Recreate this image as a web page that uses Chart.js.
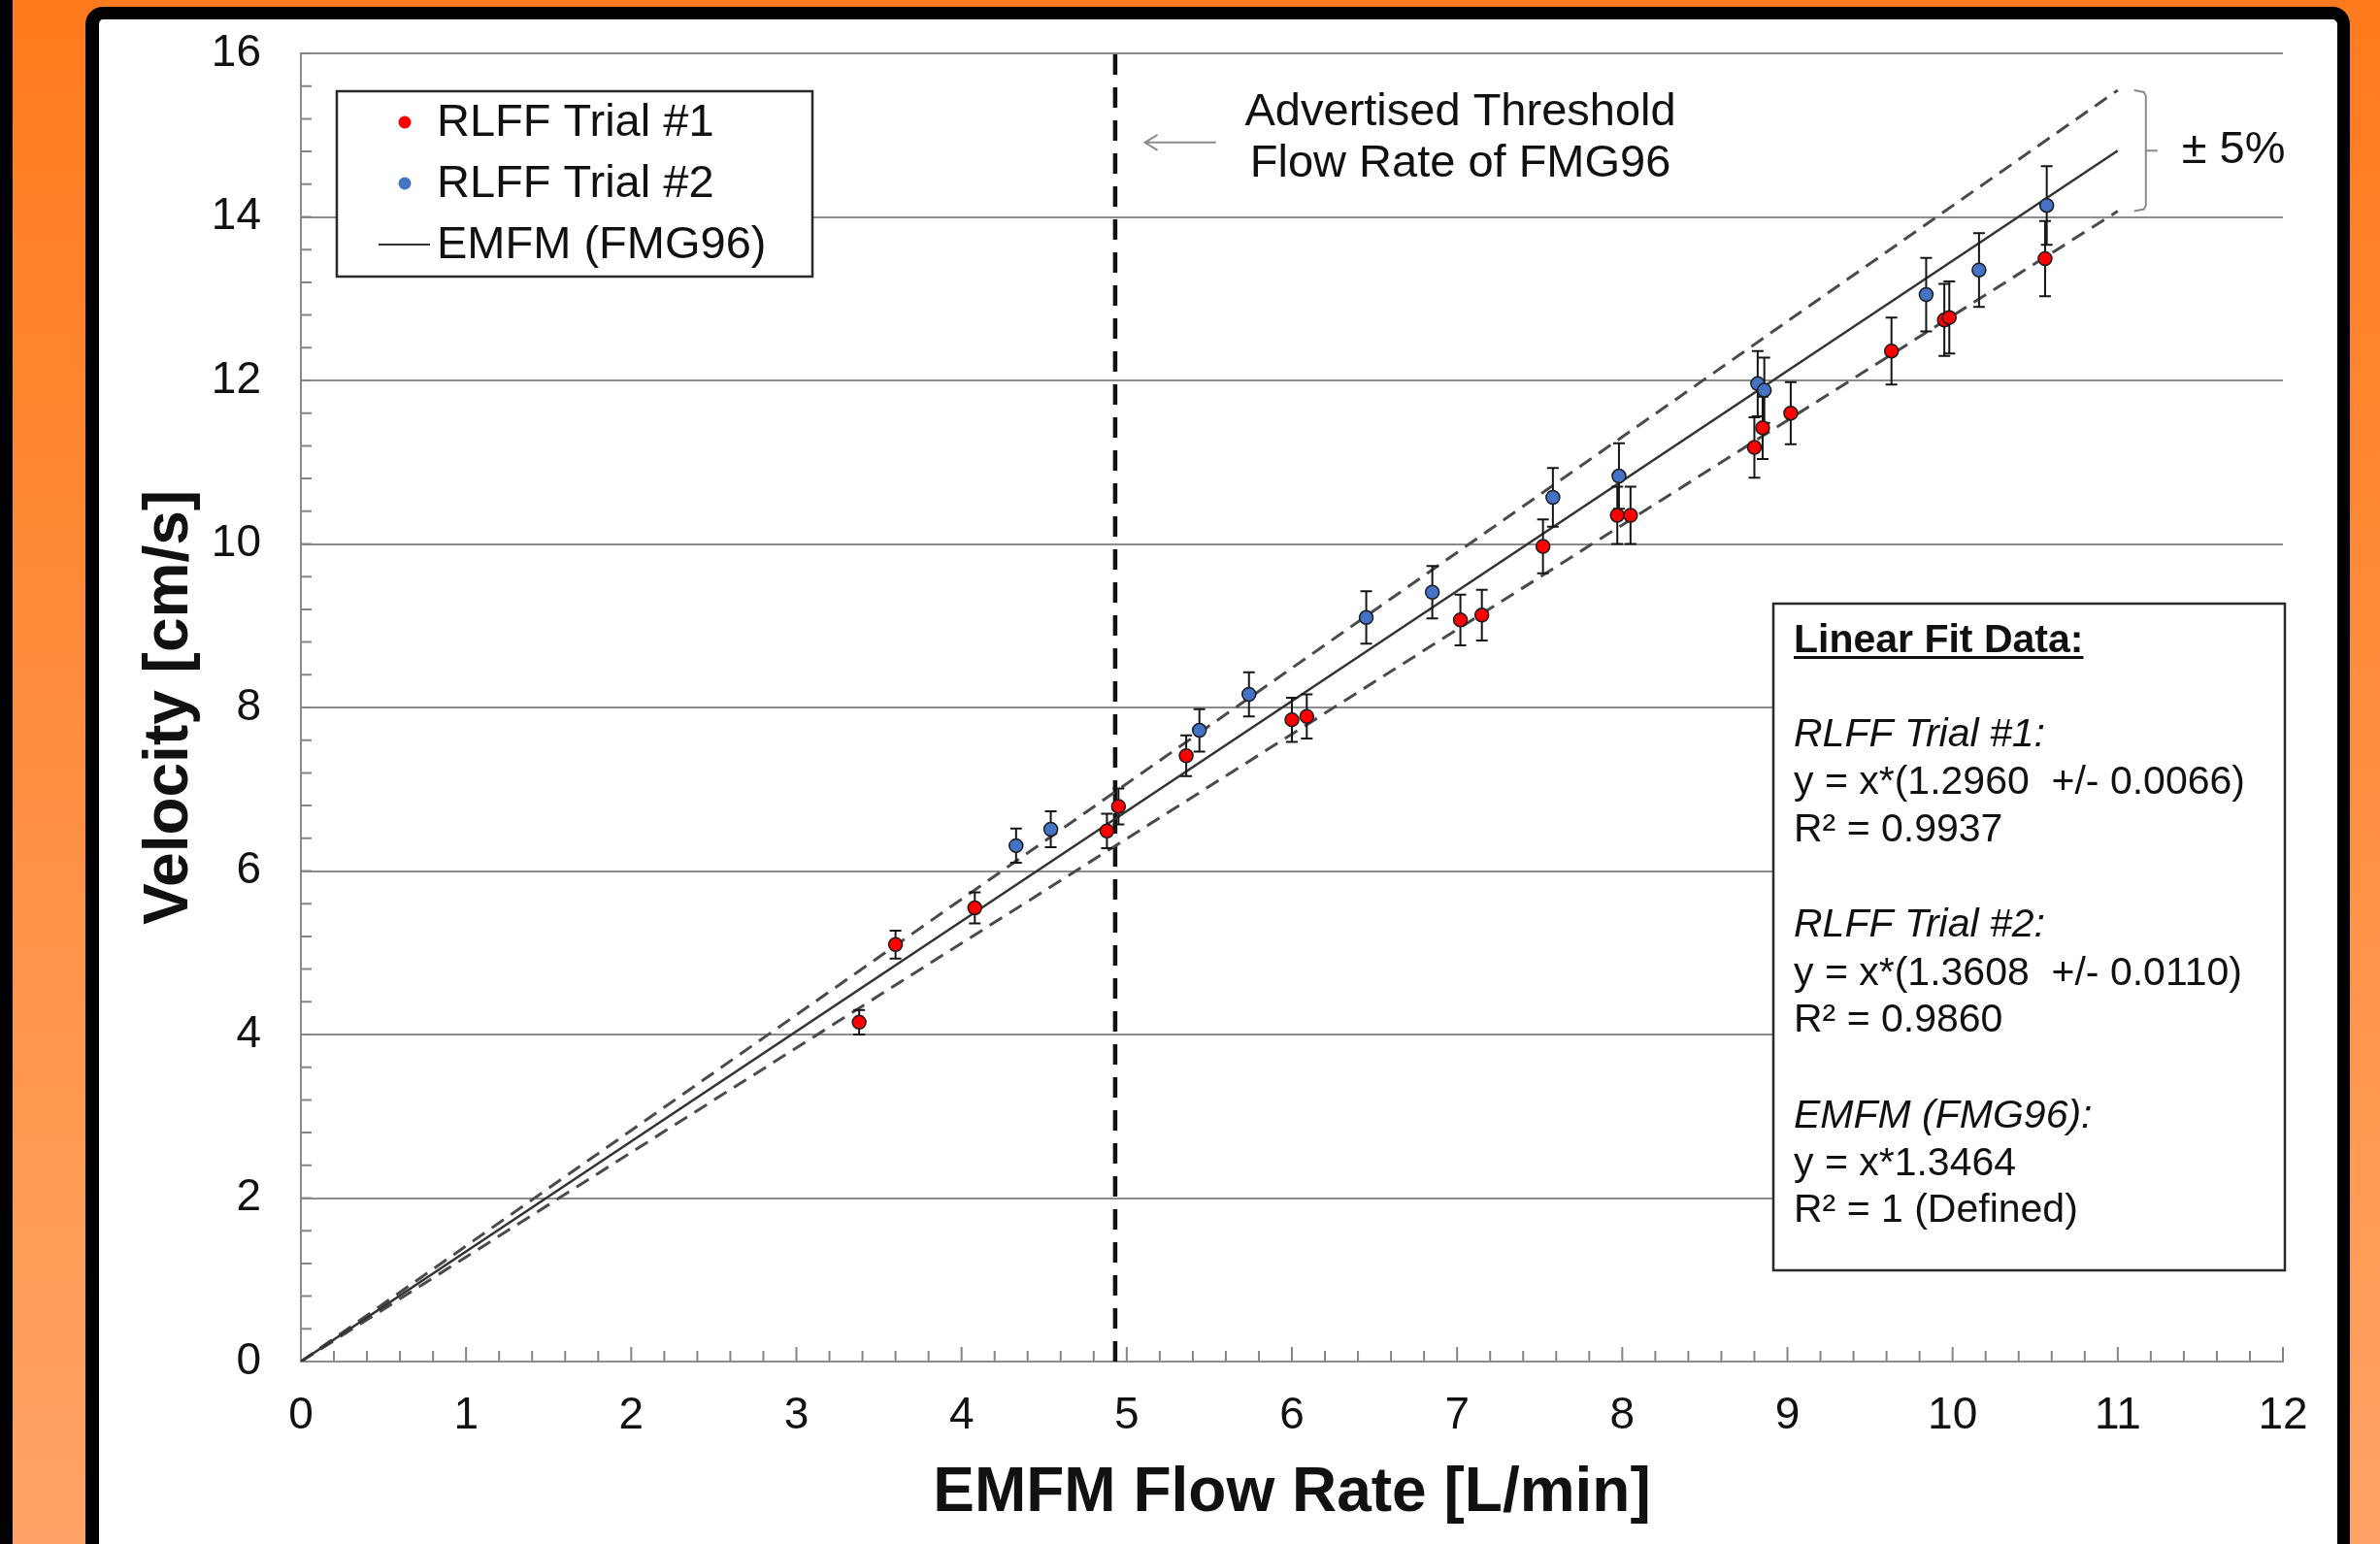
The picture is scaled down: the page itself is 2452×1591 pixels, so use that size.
<!DOCTYPE html>
<html>
<head>
<meta charset="utf-8">
<title>RLFF vs EMFM</title>
<script src="https://cdn.jsdelivr.net/npm/chart.js@4.4.1/dist/chart.umd.min.js"></script>
<style>
  html, body { margin: 0; padding: 0; }
  body {
    width: 2452px; height: 1591px; overflow: hidden; position: relative;
    background: linear-gradient(to bottom, #ff7a1c 0%, #ffa466 100%);
  }
  #edge { position: absolute; left: 0; top: 0; width: 13px; height: 100%; background: #000; }
  #panel {
    position: absolute; left: 88px; top: 7px; width: 2333px; height: 1650px;
    box-sizing: border-box; background: #fff;
    border: solid #000; border-width: 13px 13px 0 14px; border-radius: 18px;
  }
  #chart { position: absolute; left: 0; top: 0; }
</style>
</head>
<body>
<div id="edge"></div>
<div id="panel"><canvas id="chart" width="2305" height="1571"></canvas></div>
<script>
const trial1X   = [3.38, 3.60, 4.08, 4.88, 4.95, 5.36, 6.00, 6.09, 7.02, 7.15, 7.52, 7.97, 8.05, 8.80, 8.85, 9.02, 9.63, 9.95, 9.98, 10.56];
const trial1Y   = [4.15, 5.10, 5.55, 6.49, 6.79, 7.41, 7.85, 7.89, 9.07, 9.13, 9.97, 10.35, 10.35, 11.18, 11.42, 11.60, 12.36, 12.74, 12.77, 13.49];
const trial1Err = [0.15, 0.17, 0.19, 0.21, 0.22, 0.25, 0.27, 0.27, 0.31, 0.31, 0.33, 0.35, 0.35, 0.37, 0.38, 0.38, 0.41, 0.44, 0.44, 0.46];

const trial2X   = [4.33, 4.54, 5.44, 5.74, 6.45, 6.85, 7.58, 7.98, 8.82, 8.86, 9.84, 10.16, 10.57];
const trial2Y   = [6.31, 6.51, 7.72, 8.16, 9.10, 9.41, 10.57, 10.83, 11.96, 11.88, 13.05, 13.35, 14.14];
const trial2Err = [0.21, 0.22, 0.26, 0.27, 0.32, 0.32, 0.36, 0.40, 0.40, 0.40, 0.45, 0.45, 0.48];

// EMFM reference line and its +/- 5% band (end points)
const fitX   = [0, 11];
const emfmY  = [0, 14.81];
const upperY = [0, 15.55];
const lowerY = [0, 14.07];

// advertised threshold flow rate
const thresholdX = [4.93, 4.93];
const thresholdY = [0, 16];

const xTickValues = [0, 1, 2, 3, 4, 5, 6, 7, 8, 9, 10, 11, 12];
const yTickValues = [0, 2, 4, 6, 8, 10, 12, 14, 16];
const xMinorStep = 0.2;
const yMinorStep = 0.4;

const legendLabels = ['RLFF Trial #1', 'RLFF Trial #2', 'EMFM (FMG96)'];
const fitTextLines = [
  'Linear Fit Data:',
  'RLFF Trial #1:', 'y = x*(1.2960  +/- 0.0066)', 'R\u00B2 = 0.9937',
  'RLFF Trial #2:', 'y = x*(1.3608  +/- 0.0110)', 'R\u00B2 = 0.9860',
  'EMFM (FMG96):', 'y = x*1.3464', 'R\u00B2 = 1 (Defined)'
];

// --- STYLE ---
const FONT = "'Liberation Sans', Arial, Helvetica, sans-serif";
const RED = '#ff0000';
const BLUE = '#4472c4';
const GRID_GRAY = '#8c8c8c';
const TEXT = '#111111';

const toPoints = (xs, ys) => xs.map((v, i) => ({ x: v, y: ys[i] }));

// error bars sit under the markers, over the fit lines
const errorBarPlugin = {
  id: 'errorBars',
  beforeDatasetDraw(chart, args) {
    if (args.index !== 1) return;
    const { ctx, scales: { x, y } } = chart;
    ctx.save();
    ctx.strokeStyle = '#151515';
    ctx.lineWidth = 2;
    [[trial1X, trial1Y, trial1Err], [trial2X, trial2Y, trial2Err]].forEach(([xs, ys, es]) => {
      xs.forEach((xv, i) => {
        const px = x.getPixelForValue(xv);
        const top = y.getPixelForValue(ys[i] + es[i]);
        const bot = y.getPixelForValue(ys[i] - es[i]);
        ctx.beginPath();
        ctx.moveTo(px, top); ctx.lineTo(px, bot);
        ctx.moveTo(px - 6, top); ctx.lineTo(px + 6, top);
        ctx.moveTo(px - 6, bot); ctx.lineTo(px + 6, bot);
        ctx.stroke();
      });
    });
    ctx.restore();
  }
};

// inward pointing minor ticks on both axes
const minorTickPlugin = {
  id: 'minorTicks',
  beforeDatasetsDraw(chart) {
    const { ctx, scales: { x, y } } = chart;
    const x0 = x.getPixelForValue(0);
    const y0 = y.getPixelForValue(0);
    ctx.save();
    ctx.strokeStyle = '#858585';
    ctx.lineWidth = 2;
    ctx.beginPath();
    const nx = Math.round(12 / xMinorStep);
    for (let i = 1; i <= nx; i++) {
      const px = x.getPixelForValue(i * xMinorStep);
      const len = i % 5 === 0 ? 15 : 11;
      ctx.moveTo(px, y0); ctx.lineTo(px, y0 - len);
    }
    const ny = Math.round(16 / yMinorStep);
    for (let i = 1; i <= ny; i++) {
      const py = y.getPixelForValue(i * yMinorStep);
      ctx.moveTo(x0, py); ctx.lineTo(x0 + 11, py);
    }
    ctx.stroke();
    ctx.restore();
  }
};

// legend box, threshold note, +/-5% bracket and fit table
const annotationPlugin = {
  id: 'annotations',
  afterDraw(chart) {
    const { ctx, chartArea: area, scales: { x, y } } = chart;
    ctx.save();

    // legend
    const lx = area.left + 37, ly = area.top + 39, lw = 490, lh = 191;
    ctx.fillStyle = '#fff';
    ctx.fillRect(lx, ly, lw, lh);
    ctx.strokeStyle = '#2a2a2a';
    ctx.lineWidth = 2.5;
    ctx.strokeRect(lx, ly, lw, lh);
    ctx.font = `47px ${FONT}`;
    ctx.textBaseline = 'middle';
    ctx.textAlign = 'left';
    const rows = [32, 95, 158];
    [RED, BLUE].forEach((c, i) => {
      ctx.fillStyle = c;
      ctx.beginPath();
      ctx.arc(lx + 70, ly + rows[i], 6.5, 0, Math.PI * 2);
      ctx.fill();
    });
    ctx.strokeStyle = '#333';
    ctx.lineWidth = 2;
    ctx.beginPath();
    ctx.moveTo(lx + 43, ly + rows[2]); ctx.lineTo(lx + 96, ly + rows[2]);
    ctx.stroke();
    ctx.fillStyle = TEXT;
    legendLabels.forEach((t, i) => ctx.fillText(t, lx + 103, ly + rows[i] + 1));

    // threshold note with arrow
    ctx.textAlign = 'center';
    ctx.fillText('Advertised Threshold', x.getPixelForValue(7.02), y.getPixelForValue(15.28));
    ctx.fillText('Flow Rate of FMG96', x.getPixelForValue(7.02), y.getPixelForValue(14.65));
    const ax1 = x.getPixelForValue(5.11), ax2 = x.getPixelForValue(5.54), ay = y.getPixelForValue(14.91);
    ctx.strokeStyle = '#8a8a8a';
    ctx.lineWidth = 2;
    ctx.beginPath();
    ctx.moveTo(ax2, ay); ctx.lineTo(ax1, ay);
    ctx.moveTo(ax1 + 13, ay - 8); ctx.lineTo(ax1, ay); ctx.lineTo(ax1 + 13, ay + 8);
    ctx.stroke();

    // +/- 5% bracket at the end of the band
    const bx = x.getPixelForValue(11.17);
    const bTop = y.getPixelForValue(upperY[1]);
    const bMid = y.getPixelForValue(emfmY[1]);
    const bBot = y.getPixelForValue(lowerY[1]);
    ctx.strokeStyle = '#8a8a8a';
    ctx.beginPath();
    ctx.moveTo(bx - 12, bTop); ctx.lineTo(bx - 2, bTop + 2); ctx.lineTo(bx, bTop + 6);
    ctx.lineTo(bx, bBot - 6); ctx.lineTo(bx - 2, bBot - 2); ctx.lineTo(bx - 12, bBot);
    ctx.moveTo(bx, bMid); ctx.lineTo(bx + 12, bMid);
    ctx.stroke();
    ctx.textAlign = 'left';
    ctx.fillStyle = TEXT;
    ctx.fillText('\u00B1 5%', bx + 37, bMid);

    // linear fit table
    const tw = 527, th = 687;
    const tx = area.right + 2 - tw, ty = 602;
    ctx.fillStyle = '#fff';
    ctx.fillRect(tx, ty, tw, th);
    ctx.strokeStyle = '#2a2a2a';
    ctx.lineWidth = 2.5;
    ctx.strokeRect(tx, ty, tw, th);
    const lineY = [39, 136, 185, 234, 332, 382, 430, 529, 578, 626];
    const styles = ['bold', 'italic', '', '', 'italic', '', '', 'italic', '', ''];
    ctx.fillStyle = TEXT;
    fitTextLines.forEach((t, i) => {
      ctx.font = `${styles[i]} 41px ${FONT}`.trim();
      ctx.fillText(t, tx + 21, ty + lineY[i]);
    });
    ctx.font = `bold 41px ${FONT}`;
    const uw = ctx.measureText(fitTextLines[0]).width;
    ctx.fillRect(tx + 21, ty + 54, uw, 3);

    ctx.restore();
  }
};

const lineSet = (data, color, width, dash) => ({
  data, showLine: true, pointRadius: 0, borderColor: color, borderWidth: width,
  borderDash: dash, fill: false, tension: 0
});

new Chart(document.getElementById('chart'), {
  type: 'scatter',
  data: {
    datasets: [
      { label: legendLabels[0], data: toPoints(trial1X, trial1Y), backgroundColor: RED,
        borderColor: '#1a1a1a', borderWidth: 1.5, pointRadius: 7 },
      { label: legendLabels[1], data: toPoints(trial2X, trial2Y), backgroundColor: BLUE,
        borderColor: '#1a1a1a', borderWidth: 1.5, pointRadius: 7 },
      lineSet(toPoints(fitX, emfmY), '#333333', 2.5, []),
      lineSet(toPoints(fitX, upperY), '#4a4a4a', 3, [15, 9]),
      lineSet(toPoints(fitX, lowerY), '#4a4a4a', 3, [15, 9]),
      lineSet(toPoints(thresholdX, thresholdY), '#111', 4.5, [21, 13])
    ]
  },
  options: {
    responsive: false,
    animation: false,
    layout: { padding: { left: 0, top: 35, right: 55, bottom: 0 } },
    plugins: { legend: { display: false }, tooltip: { enabled: false } },
    scales: {
      x: {
        type: 'linear', min: 0, max: 12,
        afterBuildTicks: s => { s.ticks = xTickValues.map(v => ({ value: v })); },
        afterFit: s => { s.height = 188; s.paddingLeft = 0; s.paddingRight = 0; },
        grid: { display: true, drawOnChartArea: false, drawTicks: false },
        border: { display: true, color: GRID_GRAY, width: 2 },
        ticks: { color: TEXT, font: { family: FONT, size: 46 }, padding: 29, maxRotation: 0, autoSkip: false },
        title: { display: true, text: 'EMFM Flow Rate [L/min]', color: TEXT,
          font: { family: FONT, size: 64, weight: 'bold' }, padding: { top: 0, bottom: 13 } }
      },
      y: {
        type: 'linear', min: 0, max: 16,
        afterBuildTicks: s => { s.ticks = yTickValues.map(v => ({ value: v })); },
        afterFit: s => { s.width = 208; s.paddingTop = 0; s.paddingBottom = 0; },
        grid: { color: GRID_GRAY, lineWidth: 2, drawTicks: false },
        border: { display: true, color: GRID_GRAY, width: 2 },
        ticks: { color: TEXT, font: { family: FONT, size: 46 }, padding: 41 },
        title: { display: true, text: 'Velocity [cm/s]', color: TEXT,
          font: { family: FONT, size: 64, weight: 'bold' }, padding: { top: 35, bottom: 0 } }
      }
    }
  },
  plugins: [minorTickPlugin, errorBarPlugin, annotationPlugin]
});
</script>
</body>
</html>
